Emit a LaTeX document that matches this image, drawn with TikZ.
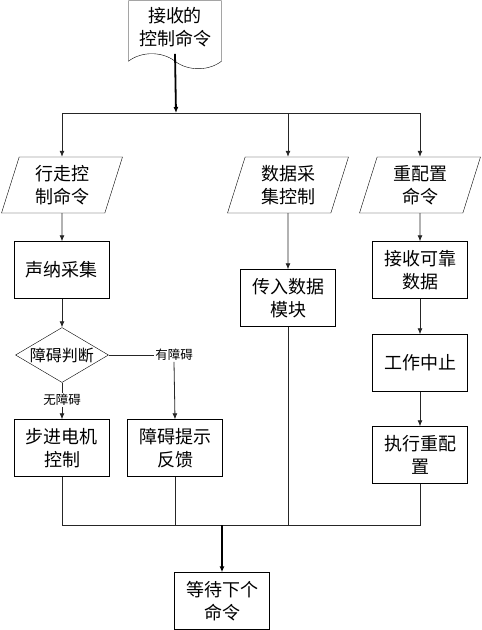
\documentclass[tikz,border=0pt]{standalone}
\usepackage{fontspec}
\setmainfont{Noto Sans CJK SC}
\usetikzlibrary{arrows.meta,positioning,shapes.geometric,shapes.symbols,calc}

\begin{document}
\begin{tikzpicture}[x=1pt,y=-1pt,
  >={Latex[length=6pt,width=5pt]},
  every node/.style={font=\fontsize{18}{23}\selectfont,align=center},
  docu/.style={tape,draw,tape bend top=none,tape bend bottom=out and in,
    tape bend height=15pt,minimum width=93pt,minimum height=68pt,inner sep=2pt},
  io/.style={trapezium,draw,trapezium left angle=67,trapezium right angle=113,
    trapezium stretches body,minimum width=121pt,minimum height=56pt,inner sep=1pt},
  process/.style={draw,minimum width=95pt,minimum height=57pt,inner sep=2pt},
  decision/.style={diamond,draw,aspect=1.69,inner sep=0pt,minimum width=93pt,
    minimum height=55pt,font=\fontsize{16}{18}\selectfont},
  note/.style={font=\fontsize{12.5}{14}\selectfont,inner sep=1pt},
  line/.style={line width=0.8pt,draw=black!85},
  flow/.style={line,->},
  bold/.style={->,line width=1.8pt}]
  \useasboundingbox (0,0) rectangle (482,630);

  \node[docu,anchor=north] (cmd) at (175,0.5) {接收的\\控制命令};
  \coordinate (bus) at (176,113);

  \node[io] (walk) at (62,185) {行走控\\制命令};
  \node[io] (data) at (288,185) {数据采\\集控制};
  \node[io] (reconf) at (420,185) {重配置\\命令};

  \node[process] (sonar) at (62,270) {声纳采集};
  \node[decision] (judge) at (62,355) {障碍判断};
  \node[note] (hasobs) at (174,355) {有障碍};
  \node[note] (noobs) at (62,400) {无障碍};
  \node[process] (motor) at (62,448) {步进电机\\控制};
  \node[process] (warn) at (175,448) {障碍提示\\反馈};

  \node[process] (store) at (288,298) {传入数据\\模块};

  \node[process] (recv) at (420,270) {接收可靠\\数据};
  \node[process] (halt) at (420,363) {工作中止};
  \node[process] (exec) at (420,455) {执行重配\\置};

  \coordinate (join) at (222,525);
  \node[process] (wait) at (222,601) {等待下个\\命令};

  \draw[bold] (cmd.south) -- (bus);
  \draw[line] (walk.north |- bus) -- (reconf.north |- bus);
  \draw[flow] (walk.north |- bus) -- (walk.north);
  \draw[flow] (data.north |- bus) -- (data.north);
  \draw[flow] (reconf.north |- bus) -- (reconf.north);

  \draw[flow] (walk) -- (sonar);
  \draw[flow] (sonar) -- (judge);
  \draw[line] (judge.east) -- (hasobs.west);
  \draw[flow] (hasobs.south) -- (warn.north);
  \draw[line] (judge.south) -- (noobs.north);
  \draw[flow] (noobs.south) -- (motor.north);
  \draw[flow] (data) -- (store);
  \draw[flow] (reconf) -- (recv);
  \draw[flow] (recv) -- (halt);
  \draw[flow] (halt) -- (exec);

  \draw[line] (motor.south) |- (exec.south |- join) -- (exec.south);
  \draw[line] (warn.south) -- (warn.south |- join);
  \draw[line] (store.south) -- (store.south |- join);
  \draw[bold] (join) -- (wait.north);
\end{tikzpicture}
\end{document}
